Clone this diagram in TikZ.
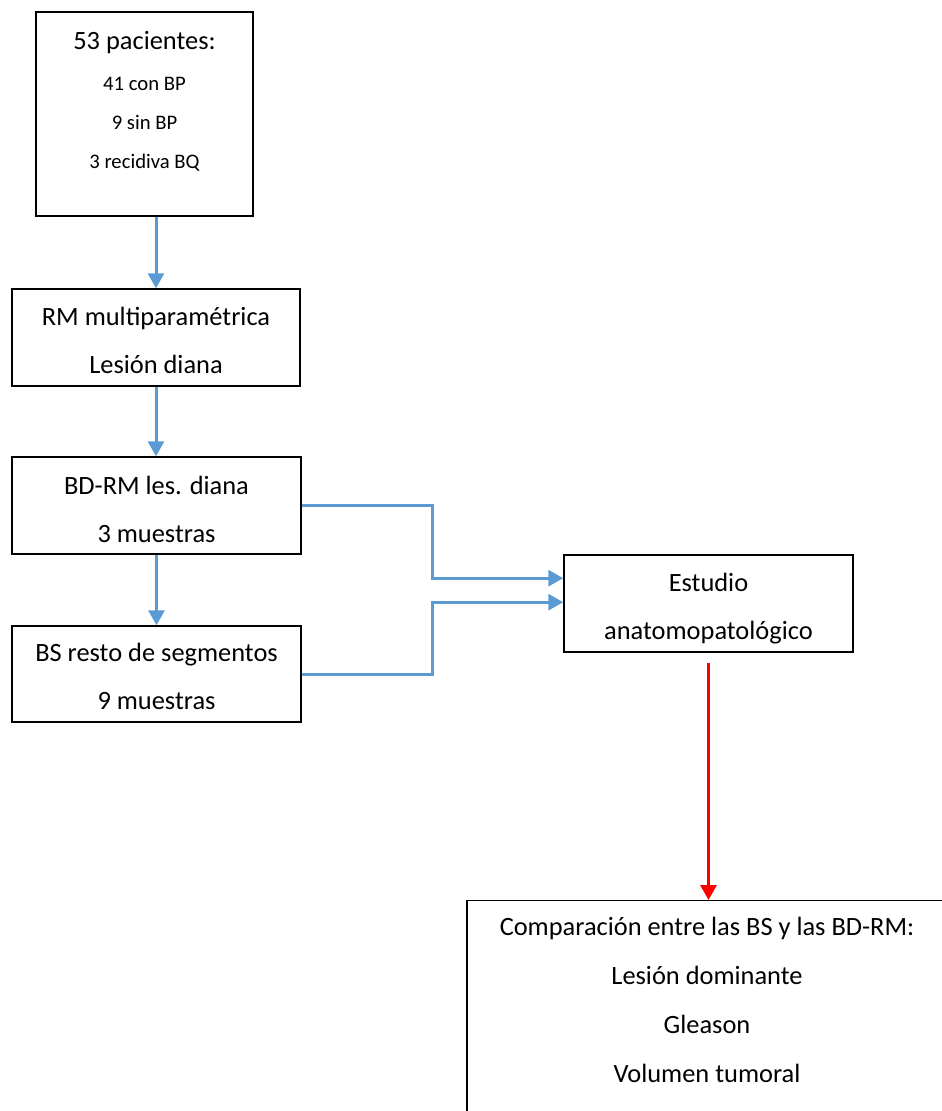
\documentclass[tikz,border=0pt]{standalone}
\usepackage{fontspec}
\setmainfont{Carlito}
\usepackage{tikz}
\usepackage{xcolor}
\usetikzlibrary{arrows.meta}
\definecolor{azul}{HTML}{5B9BD5}

\begin{document}
\begin{tikzpicture}[x = 0.75pt, y = -0.75pt,
		caja/.style = {draw, line width = 1.1pt, inner sep = 0pt, align = center, font = \fontsize{19.8}{36}\selectfont},
		flecha/.style = {draw = azul, line width = 2.25pt, -{Triangle[length = 11.25pt, width = 12pt]}},
		flechaR/.style = {draw = red, line width = 2.25pt, -{Triangle[length = 11.25pt, width = 12pt]}}]
				\useasboundingbox (0,0) rectangle (942,1111);
				\node[caja, minimum width = 162.75pt, text height = 117pt, text depth = 36pt, font = \fontsize{15.5}{29.25}\selectfont] (pac) at (144.5,114) {{\fontsize{19.8}{24}\selectfont 53 pacientes:}\\[1.5pt]41 con BP\\9 sin BP\\3 recidiva BQ};
				\node[caja, minimum width = 216pt, text height = 63pt, text depth = 9.75pt] (rm) at (156,337.5) {RM multiparamétrica\\Lesión diana};
				\node[caja, minimum width = 216.75pt, text height = 63.75pt, text depth = 9pt] (bd) at (156.5,505.5) {BD-RM les. diana\\3 muestras};
				\node[caja, minimum width = 216.75pt, text height = 62.25pt, text depth = 9.75pt] (bs) at (156.5,674) {BS resto de segmentos\\9 muestras};
				\node[caja, minimum width = 216.75pt, text height = 63pt, text depth = 9.75pt] (ap) at (708.5,603.5) {Estudio\\anatomopatológico};
				\node[caja, anchor = north, minimum width = 360pt, text height = 136.5pt, text depth = 45pt, font = \fontsize{19.8}{36.75}\selectfont] (comp) at (707,900) {Comparación entre las BS y las BD-RM:\\Lesión dominante\\Gleason\\Volumen tumoral};
				% flechas
				\draw[flecha] (rm.north |- pac.south) -- (rm.north);
				\draw[flecha] (rm.south) -- (rm.south |- bd.north);
				\draw[flecha] (bd) -- (bs);
				\draw[flecha] (bd.east) -- ++(131,0) |- ([yshift = 19pt]ap.west);
				\draw[flecha] (bs.east) -- ++(131,0) |- ([yshift = 1pt]ap.west);
				\draw[flechaR] ([yshift = -7.5pt]ap.south) -- (ap.south |- comp.north);
			\end{tikzpicture}
\end{document}
